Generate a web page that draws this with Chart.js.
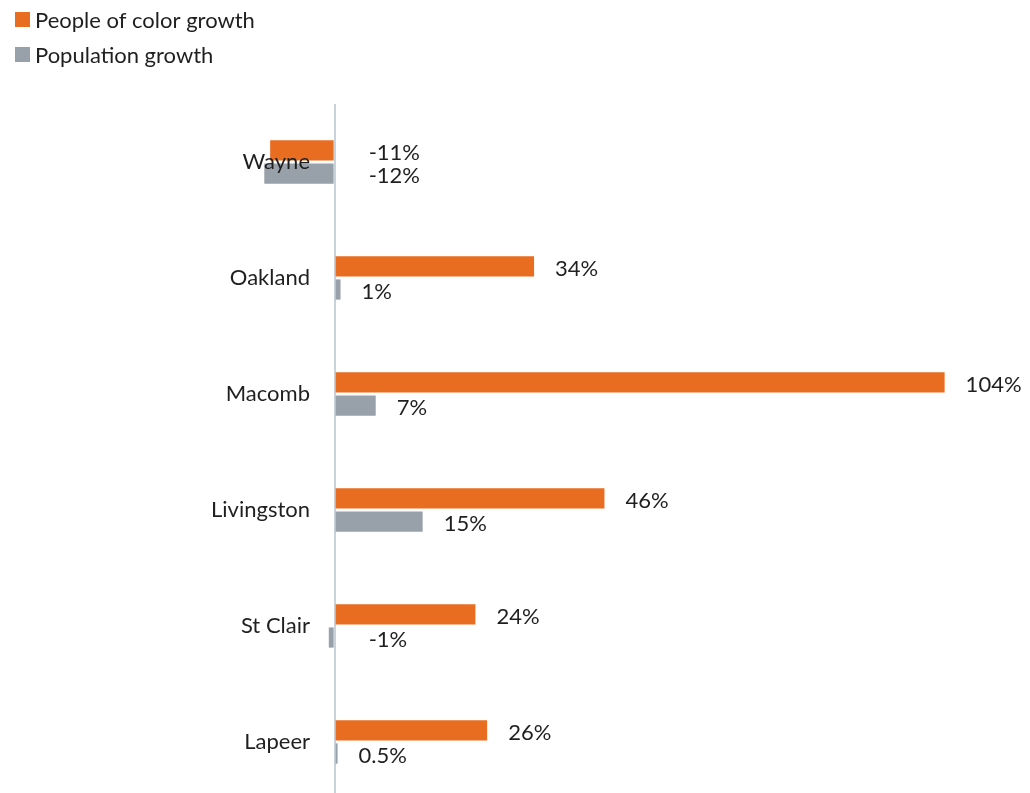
<!DOCTYPE html>
<html>
<head>
<meta charset="utf-8">
<script src="https://cdn.jsdelivr.net/npm/chart.js@4.4.1/dist/chart.umd.min.js"></script>
<style>
  html, body { margin: 0; padding: 0; background: #ffffff; overflow: hidden; }
  #wrap { position: relative; width: 1030px; height: 800px; }
</style>
</head>
<body>
<div id="wrap"><canvas id="c"></canvas></div>
<script>
const categories = ['Wayne', 'Oakland', 'Macomb', 'Livingston', 'St Clair', 'Lapeer'];
const peopleOfColorGrowth = [-11, 34, 104, 46, 24, 26];
const populationGrowth = [-12, 1, 7, 15, -1, 0.5];
const seriesNames = ['People of color growth', 'Population growth'];

const ORANGE = '#E96D21';
const GRAY = '#98A1A9';
const TEXT = '#1f1f1f';
const FONT = 'Lato';
const FONT_SIZE = 22;

// value labels next to each bar
const valueLabels = {
  id: 'valueLabels',
  afterDatasetsDraw(chart) {
    const ctx = chart.ctx;
    const xs = chart.scales.x;
    const zero = xs.getPixelForValue(0);
    ctx.save();
    ctx.font = FONT_SIZE + 'px ' + FONT;
    ctx.fillStyle = TEXT;
    ctx.textAlign = 'left';
    ctx.textBaseline = 'middle';
    chart.data.datasets.forEach((ds, i) => {
      const meta = chart.getDatasetMeta(i);
      meta.data.forEach((bar, j) => {
        const v = ds.data[j];
        const end = Math.max(xs.getPixelForValue(v), zero);
        const x = end + (v < 0 ? 34 : 21);
        ctx.fillText(v + '%', x, bar.y + 2);
      });
    });
    ctx.restore();
  }
};

// stacked (vertical) legend in the top-left corner
const stackedLegend = {
  id: 'stackedLegend',
  afterDraw(chart) {
    const ctx = chart.ctx;
    ctx.save();
    ctx.font = FONT_SIZE + 'px ' + FONT;
    ctx.textAlign = 'left';
    ctx.textBaseline = 'middle';
    chart.data.datasets.forEach((ds, i) => {
      const cy = 19.5 + i * 35;
      ctx.fillStyle = ds.backgroundColor;
      ctx.fillRect(15, cy - 7.5, 15, 15);
      ctx.fillStyle = TEXT;
      ctx.fillText(ds.label, 35, cy + 1);
    });
    ctx.restore();
  }
};

new Chart(document.getElementById('c'), {
  type: 'bar',
  data: {
    labels: categories,
    datasets: [
      { label: seriesNames[0], data: peopleOfColorGrowth, backgroundColor: ORANGE, categoryPercentage: 0.397, barPercentage: 0.88, clip: false },
      { label: seriesNames[1], data: populationGrowth, backgroundColor: GRAY, categoryPercentage: 0.397, barPercentage: 0.88, clip: false }
    ]
  },
  options: {
    indexAxis: 'y',
    responsive: true,
    maintainAspectRatio: false,
    animation: false,
    devicePixelRatio: 1,
    layout: { padding: { top: 0, left: 0, right: 15, bottom: 0 } },
    plugins: {
      legend: { display: false },
      tooltip: { enabled: false }
    },
    scales: {
      x: {
        position: 'top',
        min: -2.5,
        max: 116,
        afterBuildTicks(s) { s.ticks = [{ value: 0 }]; },
        afterFit(s) { s.height = 104; s.paddingLeft = 0; s.paddingRight = 0; },
        ticks: { display: false },
        border: { display: false },
        grid: { drawTicks: false, color: '#C9D1D9', lineWidth: 2 }
      },
      y: {
        afterFit(s) { s.width = 320; s.paddingTop = 0; s.paddingBottom = 0; },
        ticks: { z: 1, padding: 10, color: TEXT, font: { family: FONT, size: FONT_SIZE } },
        border: { display: false },
        grid: { display: false, drawTicks: false }
      }
    }
  },
  plugins: [valueLabels, stackedLegend]
});
</script>
</body>
</html>
